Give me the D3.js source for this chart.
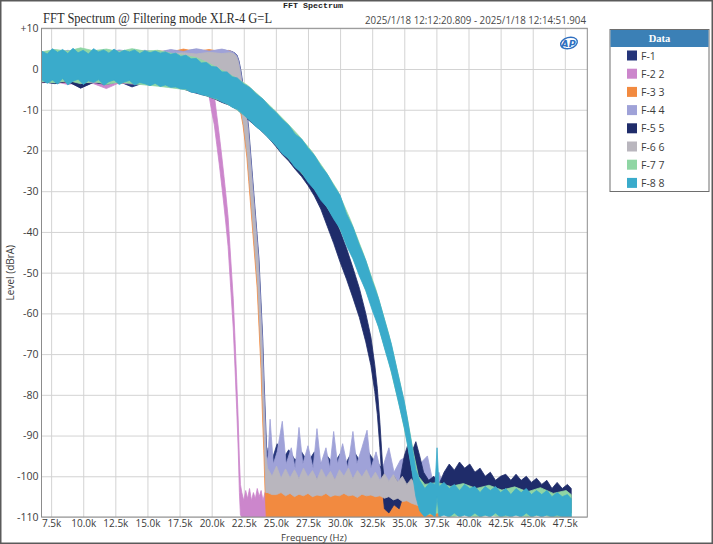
<!DOCTYPE html>
<html>
<head>
<meta charset="utf-8">
<script src="https://cdn.jsdelivr.net/npm/d3@7"></script>
<style>
  body { margin: 0; background: #fff; }
  svg { display: block; }
</style>
</head>
<body>
<div id="container"></div>
<script>
/* CONSTANTS AND GLOBALS */
const width = 713,
height = 544,
margin = { top: 28.3, bottom: 27, left: 41.5, right: 125.7 };

/* DATA : each row is [frequency kHz, upper level dBrA, lower level dBrA] of the noise band */
const seriesNames = ["F-1", "F-2 2", "F-3 3", "F-4 4", "F-5 5", "F-6 6", "F-7 7", "F-8 8"];
const seriesColors = ["#25357a", "#cc86cc", "#f28a40", "#9fa2d8", "#1f2c6a", "#b9b6be", "#8fd6a4", "#3aabcb"];

const xTicks = [7.5, 10, 12.5, 15, 17.5, 20, 22.5, 25, 27.5, 30, 32.5, 35, 37.5, 40, 42.5, 45, 47.5];
const xTickLabels = ["7.5k", "10.0k", "12.5k", "15.0k", "17.5k", "20.0k", "22.5k", "25.0k", "27.5k",
  "30.0k", "32.5k", "35.0k", "37.5k", "40.0k", "42.5k", "45.0k", "47.5k"];
const yTicks = [10, 0, -10, -20, -30, -40, -50, -60, -70, -80, -90, -100, -110];
const yTickLabels = ["+10", "0", "-10", "-20", "-30", "-40", "-50", "-60", "-70", "-80", "-90", "-100", "-110"];

const f1 = [
  [6.75, 4.2, -3.0], [7.8, 3.9, -3.6], [8.8, 4.4, -2.9], [9.8, 3.8, -4.6], [10.8, 4.3, -3.2], [11.8, 4.0, -3.5],
  [12.8, 4.5, -3.1], [13.8, 3.9, -4.4], [14.8, 4.4, -3.3], [15.8, 4.1, -3.8], [16.8, 4.6, -3.6], [17.8, 4.4, -3.4],
  [18.8, 4.8, -3.0], [19.8, 4.3, -2.8], [20.8, 4.7, -2.6], [21.5, 4.4, -2.4],
  [21.78, 4.0, -2.2], [21.98, 3.4, -3.0], [22.13, 2.0, -5.0], [22.28, -0.4, -7.8], [22.43, -3.6, -11.2],
  [22.58, -6.4, -13.8], [22.73, -10.2, -17.6], [22.88, -14.4, -21.6], [23.03, -20.4, -27.6], [23.18, -26.4, -33.6],
  [23.33, -32.4, -39.6], [23.43, -36.4, -43.6], [23.58, -42.4, -49.6], [23.68, -46.4, -53.6], [23.83, -56.4, -63.6],
  [23.98, -66.4, -73.6], [24.08, -76.4, -83.6], [24.2, -86.4, -93.6], [24.3, -95.0, -104.0],
  [24.4, -93, -102], [24.7, -96, -103], [25.1, -92, -101], [25.6, -95.5, -103], [26.0, -93.5, -102], [26.5, -96, -104],
  [27.0, -94, -102], [27.5, -96.5, -103], [28.0, -94, -101.5], [28.5, -97, -104], [29.0, -95, -102], [29.5, -97, -103.5],
  [30.0, -94.5, -102], [30.5, -96.5, -104], [31.0, -93.5, -101], [31.5, -96, -103], [32.0, -93, -101], [32.5, -95.5, -103],
  [33.0, -97, -104], [33.5, -99, -105], [34.0, -101, -106], [34.5, -103, -108], [35.0, -104, -109]
];

const f2 = [
  [6.75, 3.8, -3.4], [7.8, 4.1, -3.1], [8.8, 3.7, -3.8], [9.8, 4.2, -3.3], [10.8, 3.9, -3.6], [11.8, 4.0, -4.8],
  [12.8, 3.6, -3.4], [13.8, 4.2, -3.7], [14.8, 3.8, -3.5], [15.8, 4.0, -4.0], [16.8, 3.7, -3.6], [17.8, 4.1, -4.2],
  [18.8, 3.9, -3.9], [19.3, 3.8, -3.8], [19.55, 2.8, -4.6], [19.8, 0.6, -6.6], [20.0, -3.2, -10.4], [20.2, -6.4, -13.6],
  [20.4, -11.4, -18.6], [20.6, -16.4, -23.6], [20.8, -21.8, -29.0], [20.96, -26.4, -33.6], [21.1, -30.6, -37.8],
  [21.28, -36.4, -43.6], [21.48, -46.4, -53.6], [21.68, -56.4, -63.6], [21.82, -66.4, -73.6], [21.95, -76.4, -83.6],
  [22.07, -86.4, -93.6], [22.16, -96, -104], [22.24, -102, -109.5],
  [22.35, -104, -110], [22.5, -106, -110], [22.65, -103.5, -110], [22.8, -105.5, -110], [22.95, -103, -110],
  [23.1, -106, -110], [23.25, -104, -110], [23.4, -105.5, -110], [23.55, -103, -110], [23.7, -105, -110],
  [23.85, -103.5, -110], [24.0, -106, -110], [24.15, -104, -110], [24.3, -105, -110], [24.6, -105, -110],
  [26.0, -106, -110], [28.0, -105.5, -110], [30.0, -106, -110], [32.0, -105.5, -110], [34.0, -106.5, -110],
  [36.0, -107, -110], [37.8, -108, -110]
];

const f3 = [
  [6.75, 3.9, -3.2], [7.8, 4.4, -2.9], [8.8, 4.0, -3.4], [9.8, 4.5, -3.0], [10.8, 3.8, -3.3], [11.8, 4.6, -2.9],
  [12.8, 4.1, -3.5], [13.8, 4.4, -3.1], [14.8, 3.9, -3.4], [15.8, 4.5, -3.0], [16.8, 4.2, -3.3], [17.8, 4.9, -3.2],
  [18.8, 4.3, -3.4], [19.8, 4.8, -3.0], [20.8, 4.2, -3.2], [21.35, 4.6, -2.7],
  [21.64, 4.0, -2.2], [21.84, 3.4, -3.0], [21.99, 2.0, -5.0], [22.14, -0.4, -7.8], [22.29, -3.6, -11.2],
  [22.44, -6.4, -13.8], [22.59, -10.2, -17.6], [22.74, -14.4, -21.6], [22.89, -20.4, -27.6], [23.04, -26.4, -33.6],
  [23.19, -32.4, -39.6], [23.29, -36.4, -43.6], [23.44, -42.4, -49.6], [23.54, -46.4, -53.6], [23.69, -56.4, -63.6],
  [23.84, -66.4, -73.6], [23.94, -76.4, -83.6], [24.06, -86.4, -93.6], [24.16, -95.0, -104.0],
  [24.25, -99, -110], [24.55, -102.5, -110], [24.85, -99.5, -110], [25.15, -103, -110], [25.45, -100, -110],
  [25.75, -102, -110], [26.05, -99, -110], [26.35, -103.5, -110], [26.65, -100.5, -110], [26.95, -102.5, -110],
  [27.25, -99.5, -110], [27.55, -103, -110], [27.85, -100, -110], [28.15, -102, -110], [28.45, -99.5, -110],
  [28.75, -103.5, -110], [29.05, -100.5, -110], [29.35, -102.5, -110], [29.65, -99.5, -110], [29.95, -103, -110],
  [30.25, -100, -110], [30.55, -102.5, -110], [30.85, -100, -110], [31.15, -103.5, -110], [31.45, -100.5, -110],
  [31.75, -102.5, -110], [32.05, -100.5, -110], [32.35, -103.5, -110], [32.65, -101, -110], [32.95, -103.5, -110],
  [33.25, -101.5, -110], [33.55, -104, -110], [33.85, -102, -110], [34.15, -104.5, -110], [34.45, -102.5, -110],
  [34.75, -105, -110], [35.05, -103, -110], [35.35, -105.5, -110], [35.65, -103.5, -110], [35.95, -106, -110],
  [36.25, -104.5, -110], [36.55, -106.5, -110], [36.85, -105, -110], [37.15, -107, -110], [37.5, -106, -110],
  [37.8, -108, -110]
];

const f4 = [
  [6.75, 4.3, -2.9], [7.8, 3.9, -3.3], [8.8, 4.6, -3.0], [9.8, 4.1, -3.4], [10.8, 4.5, -3.1], [11.8, 4.0, -3.3],
  [12.8, 4.7, -3.0], [13.8, 4.2, -3.5], [14.8, 4.6, -3.2], [15.8, 4.1, -3.4], [16.8, 4.8, -3.1], [17.8, 4.3, -3.4],
  [18.8, 5.0, -3.2], [19.8, 4.4, -2.9], [20.8, 4.9, -3.1], [21.45, 4.4, -2.6],
  [21.75, 4.0, -2.2], [21.95, 3.4, -3.0], [22.1, 2.0, -5.0], [22.25, -0.4, -7.8], [22.4, -3.6, -11.2],
  [22.55, -6.4, -13.8], [22.7, -10.2, -17.6], [22.85, -14.4, -21.6], [23.0, -20.4, -27.6], [23.15, -26.4, -33.6],
  [23.3, -32.4, -39.6], [23.4, -36.4, -43.6], [23.55, -42.4, -49.6], [23.65, -46.4, -53.6], [23.8, -56.4, -63.6],
  [23.95, -66.4, -73.6], [24.05, -76.4, -83.6], [24.17, -86.4, -93.6], [24.27, -95.0, -104.0],
  [24.37, -96, -104], [24.55, -86, -100], [24.8, -97, -103], [25.1, -94, -102], [25.5, -86.5, -100], [25.8, -97, -104],
  [26.2, -93, -101], [26.5, -98, -103], [26.8, -88, -100], [27.1, -97, -103], [27.5, -92.5, -101], [27.9, -98, -104],
  [28.2, -88.3, -100], [28.5, -97, -103], [28.9, -93, -101], [29.2, -98, -104], [29.5, -89, -100], [29.8, -97, -103],
  [30.2, -92, -101], [30.6, -98, -104], [31.0, -89, -100], [31.3, -97, -103], [31.7, -93, -101], [32.1, -88.7, -100],
  [32.4, -98, -104], [32.8, -94, -102], [33.2, -99, -104], [33.8, -93, -101], [34.2, -99, -105], [34.7, -96, -103],
  [35.3, -95, -104], [35.7, -100, -106], [36.2, -97, -104], [36.8, -95, -103], [37.2, -101, -107], [37.7, -99, -106],
  [38.2, -104, -109]
];

const f5 = [
  [6.75, 4.0, -3.2], [7.8, 4.3, -3.5], [8.8, 3.8, -3.1], [9.8, 4.4, -4.7], [10.8, 4.1, -3.3], [11.8, 4.2, -3.8],
  [12.8, 3.9, -3.0], [13.8, 4.4, -3.6], [14.8, 4.0, -3.4], [15.8, 4.2, -4.0], [16.6, 3.8, -4.2],
  [17.2, 3.6, -4.4], [17.8, 3.0, -4.9], [18.4, 2.4, -5.6], [19.0, 1.7, -6.1], [19.6, 1.1, -6.6], [20.2, 0.4, -7.3],
  [20.8, -0.4, -8.2], [21.4, -1.2, -8.9], [22.0, -2.4, -10.0], [22.6, -4.2, -11.8], [23.2, -5.8, -13.4],
  [23.8, -7.8, -15.0], [24.4, -9.8, -16.8], [25.0, -11.8, -19.0], [25.5, -13.4, -21.0], [26.0, -15.0, -22.6],
  [26.5, -16.8, -24.6], [27.0, -19.0, -26.4], [27.5, -21.4, -28.6], [28.0, -24.6, -31.2], [28.5, -28.0, -34.4],
  [29.0, -31.8, -38.6], [29.5, -35.4, -42.8], [30.0, -39.8, -47.4], [30.5, -44.0, -51.6], [31.0, -48.8, -56.2],
  [31.5, -53.8, -61.0], [32.0, -60.0, -67.0], [32.4, -65.8, -72.8], [32.7, -72.6, -79.2], [32.9, -78.4, -84.8],
  [33.1, -86.8, -93.0], [33.3, -96.8, -103.0], [33.45, -101.0, -108.0],
  [33.8, -103, -109], [34.2, -100, -107], [34.6, -102, -108], [35.0, -95, -104], [35.3, -92, -102], [35.6, -94, -103],
  [35.9, -91.5, -101], [36.2, -95, -103], [36.5, -99, -105], [36.9, -101, -107], [37.3, -100, -106], [37.7, -102, -107],
  [38.1, -99, -104], [38.5, -97, -103], [38.9, -98.5, -103.5], [39.3, -96.5, -102.5], [39.7, -98, -103],
  [40.1, -97, -102.5], [40.5, -99, -104], [40.9, -98, -103.5], [41.3, -100, -105], [41.7, -99, -104.5],
  [42.1, -101, -106], [42.5, -100, -105], [42.9, -99.5, -105.5], [43.3, -101, -106], [43.7, -99.5, -105],
  [44.1, -101, -106.5], [44.5, -100, -105.5], [44.9, -101.5, -106.5], [45.3, -100.5, -106], [45.7, -102, -107],
  [46.1, -101, -106.5], [46.5, -103, -108], [46.9, -101.5, -107], [47.3, -103, -108], [47.7, -102, -108.5],
  [48.0, -103, -109]
];

const f6 = [
  [6.75, 3.6, -3.0], [7.8, 3.9, -3.3], [8.8, 3.5, -2.9], [9.8, 4.0, -3.2], [10.8, 3.7, -3.4], [11.8, 3.9, -3.0],
  [12.8, 3.6, -3.3], [13.8, 4.1, -3.1], [14.8, 3.7, -3.3], [15.8, 4.0, -3.0], [16.8, 3.8, -3.4], [17.8, 4.0, -3.0],
  [18.8, 3.7, -3.2], [19.8, 4.1, -2.8], [20.8, 3.8, -3.0], [21.4, 4.0, -2.5],
  [21.7, 3.8, -2.2], [21.9, 3.2, -3.0], [22.05, 2.0, -5.0], [22.2, -0.4, -7.8], [22.35, -3.6, -11.2],
  [22.5, -6.4, -13.8], [22.65, -10.2, -17.6], [22.8, -14.4, -21.6], [22.95, -20.4, -27.6], [23.1, -26.4, -33.6],
  [23.25, -32.4, -39.6], [23.35, -36.4, -43.6], [23.5, -42.4, -49.6], [23.6, -46.4, -53.6], [23.75, -56.4, -63.6],
  [23.9, -66.4, -73.6], [24.0, -76.4, -83.6], [24.12, -86.4, -93.6], [24.22, -95.0, -104.0],
  [24.35, -98, -104], [24.7, -100, -104.5], [25.05, -97.5, -104.5], [25.4, -100.5, -104], [25.75, -98.2, -104.8],
  [26.1, -100.4, -104.2], [26.45, -98.4, -105], [26.8, -100.6, -104.4], [27.15, -98, -104.8], [27.5, -100.2, -104.2],
  [27.85, -98.6, -105], [28.2, -100.8, -104.6], [28.55, -98.2, -104.8], [28.9, -100.4, -104.2], [29.25, -98.8, -105],
  [29.6, -101, -104.6], [29.95, -98.4, -104.8], [30.3, -100, -104.2], [30.65, -98, -104.8], [31.0, -100.6, -104.6],
  [31.35, -98.6, -105.2], [31.7, -100.2, -104.4], [32.05, -98.4, -104.8], [32.4, -100.8, -104.6], [32.75, -99, -105],
  [33.1, -101, -104.8], [33.45, -99.4, -105.4], [33.8, -101.2, -105], [34.15, -99.6, -105.8], [34.5, -101.4, -105.4],
  [34.85, -100, -106.2], [35.2, -102, -106], [35.55, -100.6, -106.6], [35.9, -102.4, -107], [36.25, -101.2, -107.4],
  [36.6, -103, -107.8], [37.0, -102.4, -108.2], [37.5, -104, -108.8], [38.0, -104.8, -109.2]
];

const f7 = [
  [6.75, 4.2, -3.0], [7.8, 4.8, -3.4], [8.8, 4.4, -2.8], [9.8, 5.2, -3.6], [10.8, 4.5, -3.0], [11.8, 4.9, -3.8],
  [12.8, 4.3, -3.2], [13.8, 5.0, -3.6], [14.8, 4.4, -3.9], [15.8, 4.6, -4.2], [16.8, 3.9, -4.6],
  [17.8, 3.4, -5.0], [18.8, 2.8, -5.6], [19.8, 1.4, -6.8], [20.8, -0.3, -7.9], [21.8, -2.0, -9.6], [22.8, -4.0, -12.0],
  [23.8, -6.8, -14.8], [24.8, -9.8, -18.0], [25.8, -13.0, -21.4], [26.8, -16.4, -24.8], [27.8, -20.2, -28.6],
  [28.8, -24.8, -33.0], [29.8, -29.8, -38.0], [30.8, -37.0, -44.8], [31.8, -45.2, -52.6], [32.8, -54.2, -61.2],
  [33.8, -65.2, -72.0], [34.6, -76.0, -82.4], [35.2, -85.0, -91.2], [35.7, -94.0, -100.0], [36.1, -100.0, -107.0],
  [36.6, -102.0, -109.5], [37.6, -101.5, -109.0], [38.6, -102.5, -110], [39.6, -101.8, -109.5], [40.6, -103.0, -110],
  [41.6, -102.2, -109.5], [42.6, -103.4, -110], [43.6, -102.6, -109.5], [44.6, -103.8, -110], [45.6, -102.8, -109.5],
  [46.6, -104.2, -110], [47.6, -103.5, -110], [48.0, -104.5, -110]
];

const f8 = [
  [6.75, 4.4, -2.6], [7.2, 3.7, -3.5], [7.6, 5.0, -2.7], [8.0, 4.1, -3.7], [8.4, 4.8, -2.3], [8.8, 3.8, -3.9],
  [9.2, 5.1, -3.0], [9.6, 4.0, -2.5], [10.0, 4.6, -3.8], [10.4, 3.7, -2.9], [10.8, 5.0, -3.3], [11.2, 4.2, -2.6],
  [11.6, 4.7, -4.0], [12.0, 3.9, -3.1], [12.4, 4.9, -2.7], [12.8, 4.0, -3.8], [13.2, 4.6, -3.2], [13.6, 4.2, -2.8],
  [14.0, 4.7, -3.9], [14.4, 3.8, -3.3], [14.8, 4.5, -3.6], [15.2, 4.0, -4.1], [15.6, 4.4, -3.5], [16.0, 3.9, -4.3],
  [16.4, 4.2, -3.9], [16.8, 3.6, -4.5], [17.2, 3.9, -4.4], [17.6, 3.1, -4.9], [18.0, 3.4, -4.9], [18.4, 2.5, -5.7],
  [18.8, 2.6, -5.8], [19.2, 1.5, -6.3], [19.6, 1.6, -6.5], [20.0, 0.6, -7.0], [20.4, 0.5, -7.3], [20.8, -0.7, -8.1],
  [21.2, -0.7, -8.5], [21.6, -1.9, -9.4], [22.0, -2.2, -9.9], [22.5, -3.7, -11.3], [23.0, -4.6, -12.7],
  [23.5, -6.2, -14.3], [24.0, -7.4, -15.5], [24.5, -9.2, -17.2], [25.0, -10.6, -18.7], [25.5, -12.4, -20.8],
  [26.0, -13.8, -22.0], [26.5, -16.0, -24.2], [27.0, -17.2, -25.4], [27.5, -19.4, -27.8], [28.0, -21.2, -29.6],
  [28.5, -23.8, -32.2], [29.0, -25.8, -34.0], [29.5, -28.6, -36.8], [30.0, -31.0, -39.2], [30.5, -35.6, -43.4],
  [31.0, -38.8, -46.6], [31.5, -43.2, -50.8], [32.0, -47.0, -54.4], [32.5, -52.0, -59.2], [33.0, -56.4, -63.4],
  [33.5, -62.0, -69.0], [34.0, -67.6, -74.4], [34.5, -74.8, -81.2], [35.0, -81.6, -88.0], [35.3, -87.0, -93.2],
  [35.6, -92.6, -98.8], [35.9, -98.4, -105.0], [36.2, -101.0, -108.5],
  [36.6, -103, -110], [37.0, -101.5, -109], [37.4, -102, -110], [37.55, -93, -105], [37.7, -102.5, -110],
  [38.1, -101.5, -109.5], [38.5, -103, -110], [38.9, -102, -109], [39.3, -103.5, -110], [39.7, -102, -109.5],
  [40.1, -103, -110], [40.5, -102.5, -109], [40.9, -104, -110], [41.3, -102.5, -109.5], [41.7, -103.5, -110],
  [42.1, -102.5, -109], [42.5, -104, -110], [42.9, -103, -109.5], [43.3, -104.5, -110], [43.7, -103, -109.5],
  [44.1, -104, -110], [44.5, -103, -109], [44.9, -104.5, -110], [45.3, -103.5, -109.5], [45.7, -104.5, -110],
  [46.1, -103.5, -109.5], [46.5, -105, -110], [46.9, -104, -109.5], [47.3, -105, -110], [47.7, -104.5, -110],
  [48.0, -105.5, -110]
];

const allSeries = [f1, f2, f3, f4, f5, f6, f7, f8];

/* SVG */
const svg = d3
  .select("#container")
  .append("svg")
  .attr("width", width)
  .attr("height", height);

const innerLeft = margin.left,
innerRight = width - margin.right,
innerTop = margin.top,
innerBottom = height - margin.bottom;

// SCALES
const xScale = d3.scaleLinear().domain([6.75, 49.25]).range([innerLeft, innerRight]);
const yScale = d3.scaleLinear().domain([-110, 10]).range([innerBottom, innerTop]);

// OUTER FRAME
svg.append("rect")
  .attr("x", 0.75).attr("y", 0.75)
  .attr("width", width - 1.5).attr("height", height - 1.5)
  .attr("fill", "#fff")
  .attr("stroke", "#5a5a5a")
  .attr("stroke-width", 1.5);

// GRID + AXES
const xAxis = d3.axisBottom(xScale)
  .tickValues(xTicks)
  .tickSize(-(innerBottom - innerTop))
  .tickPadding(3)
  .tickFormat((d, i) => xTickLabels[i]);

const yAxis = d3.axisLeft(yScale)
  .tickValues(yTicks)
  .tickSize(-(innerRight - innerLeft))
  .tickPadding(3)
  .tickFormat((d, i) => yTickLabels[i]);

const gx = svg.append("g")
  .attr("transform", `translate(0,${innerBottom})`)
  .call(xAxis);
const gy = svg.append("g")
  .attr("transform", `translate(${innerLeft},0)`)
  .call(yAxis);

[gx, gy].forEach(g => {
  g.select(".domain").remove();
  g.selectAll(".tick line").attr("stroke", "#d3d3d3").attr("stroke-width", 1);
  g.selectAll(".tick text")
    .attr("fill", "#3c3c3c")
    .style("font-family", "'Open Sans', 'Noto Sans', sans-serif")
    .style("font-size", "10.5px");
});
gx.selectAll(".tick text").style("font-size", "10px");

// CLIP
svg.append("clipPath").attr("id", "plot-clip")
  .append("rect")
  .attr("x", innerLeft).attr("y", innerTop)
  .attr("width", innerRight - innerLeft).attr("height", innerBottom - innerTop);

// TRACES (noise bands)
const bandGen = d3.area()
  .x(d => xScale(d[0]))
  .y0(d => yScale(d[2]))
  .y1(d => yScale(d[1]));

svg.append("g")
  .attr("clip-path", "url(#plot-clip)")
  .selectAll("path")
  .data(allSeries)
  .join("path")
  .attr("d", bandGen)
  .attr("fill", (d, i) => seriesColors[i])
  .attr("stroke", (d, i) => seriesColors[i])
  .attr("stroke-width", 0.8)
  .attr("stroke-linejoin", "round");

// PLOT BORDER
svg.append("rect")
  .attr("x", innerLeft).attr("y", innerTop)
  .attr("width", innerRight - innerLeft).attr("height", innerBottom - innerTop)
  .attr("fill", "none")
  .attr("stroke", "#8c8c8c")
  .attr("stroke-width", 1);

// AXIS TITLES
svg.append("text")
  .attr("x", 314)
  .attr("y", 540.5)
  .attr("text-anchor", "middle")
  .attr("fill", "#3c3c3c")
  .style("font-family", "'Open Sans', 'Noto Sans', sans-serif")
  .style("font-size", "9.5px")
  .text("Frequency (Hz)");

svg.append("text")
  .attr("transform", `translate(13.5,${(innerTop + innerBottom) / 2}) rotate(-90)`)
  .attr("text-anchor", "middle")
  .attr("fill", "#3c3c3c")
  .style("font-family", "'Open Sans', 'Noto Sans', sans-serif")
  .style("font-size", "10px")
  .text("Level (dBrA)");

// TITLES
svg.append("text")
  .attr("x", 43).attr("y", 22.5)
  .attr("fill", "#2b2b2b")
  .attr("textLength", 229)
  .attr("lengthAdjust", "spacingAndGlyphs")
  .style("font-family", "'Liberation Serif', 'DejaVu Serif', serif")
  .style("font-size", "14.5px")
  .text("FFT Spectrum @ Filtering mode XLR-4 G=L");

svg.append("text")
  .attr("x", 283).attr("y", 8)
  .attr("fill", "#222")
  .attr("textLength", 60)
  .attr("lengthAdjust", "spacingAndGlyphs")
  .style("font-family", "'Liberation Mono', 'DejaVu Sans Mono', monospace")
  .style("font-size", "8px")
  .style("font-weight", "bold")
  .text("FFT Spectrum");

svg.append("text")
  .attr("x", 365).attr("y", 23.5)
  .attr("fill", "#4a4a4a")
  .attr("textLength", 221)
  .attr("lengthAdjust", "spacingAndGlyphs")
  .style("font-family", "'Open Sans', 'Noto Sans', sans-serif")
  .style("font-size", "10.5px")
  .text("2025/1/18 12:12:20.809 - 2025/1/18 12:14:51.904");

// AP LOGO
const logo = svg.append("g").attr("transform", "translate(569,43)");
logo.append("ellipse")
  .attr("rx", 8.5).attr("ry", 5.5)
  .attr("fill", "none")
  .attr("stroke", "#2f6fc0")
  .attr("stroke-width", 1.4)
  .attr("transform", "rotate(-15)");
logo.append("text")
  .attr("x", -0.5).attr("y", 3.5)
  .attr("text-anchor", "middle")
  .attr("fill", "#2f6fc0")
  .style("font-family", "'DejaVu Sans', sans-serif")
  .style("font-size", "9.5px")
  .style("font-weight", "bold")
  .style("font-style", "italic")
  .text("AP");

// LEGEND
const legend = svg.append("g").attr("transform", "translate(610,29.5)");
legend.append("rect")
  .attr("width", 99).attr("height", 162)
  .attr("fill", "#fff")
  .attr("stroke", "#6e6e6e")
  .attr("stroke-width", 1);
legend.append("rect")
  .attr("x", 0.5).attr("y", 0.5)
  .attr("width", 98).attr("height", 17)
  .attr("fill", "#3b80b6");
legend.append("text")
  .attr("x", 49.5).attr("y", 12.5)
  .attr("text-anchor", "middle")
  .attr("fill", "#fff")
  .style("font-family", "'Liberation Serif', 'DejaVu Serif', serif")
  .style("font-size", "10.5px")
  .style("font-weight", "bold")
  .text("Data");

const rows = legend.selectAll("g.row")
  .data(seriesNames)
  .join("g")
  .attr("class", "row")
  .attr("transform", (d, i) => `translate(17,${26 + i * 18.2})`);
rows.append("rect")
  .attr("x", 0).attr("y", -5)
  .attr("width", 10).attr("height", 10)
  .attr("fill", (d, i) => seriesColors[i]);
rows.append("text")
  .attr("x", 14).attr("y", 4)
  .attr("fill", "#3c3c3c")
  .style("font-family", "'Open Sans', 'Noto Sans', sans-serif")
  .style("font-size", "10.5px")
  .text(d => d);
</script>
</body>
</html>
